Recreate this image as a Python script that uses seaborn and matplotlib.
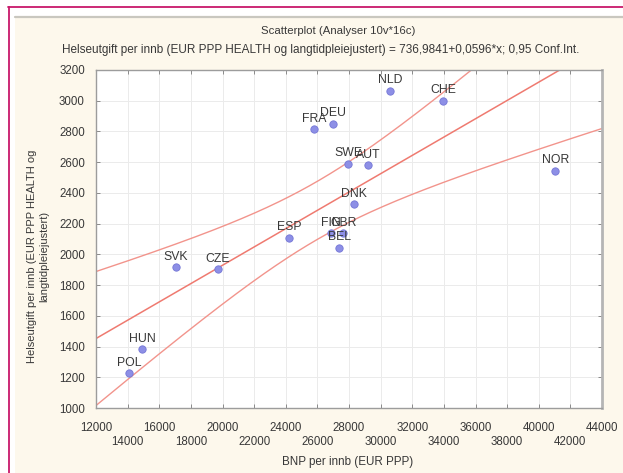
import numpy as np
import pandas as pd
import matplotlib
matplotlib.use("Agg")
import matplotlib.pyplot as plt
import seaborn as sns
from matplotlib.patches import Rectangle
from matplotlib.lines import Line2D

# Country codes with GDP per capita and health expenditure per capita (EUR PPP)
countries = ["NLD", "CHE", "FRA", "DEU", "SWE", "AUT", "DNK", "FIN", "GBR",
             "BEL", "ESP", "SVK", "CZE", "HUN", "POL", "NOR"]
gdp = [30600, 33960, 25800, 27000, 27950, 29215, 28330, 26870, 27630,
       27380, 24215, 17063, 19722, 14911, 14089, 41050]
health = [3064, 2999, 2816, 2849, 2589, 2582, 2328, 2139, 2139,
          2042, 2107, 1918, 1905, 1384, 1228, 2543]

# Fitted regression line as stated in the subtitle
intercept = 736.9841
slope = 0.0596

x_ticks = list(range(12000, 44001, 2000))
y_ticks = list(range(1000, 3201, 200))

df = pd.DataFrame({"land": countries, "bnp": gdp, "helse": health})

sns.set_style("white")
plt.rcParams["font.family"] = ["Liberation Sans", "DejaVu Sans"]

fig = plt.figure(figsize=(6.23, 4.73), dpi=100)
fig.patch.set_facecolor("white")

W, H = 623.0, 473.0
# cream panel with a grey top edge, framed by a magenta border
fig.add_artist(Rectangle((15 / W, 0), 1 - 15 / W, 1 - 17 / H,
                         transform=fig.transFigure, facecolor="#fdf8ec",
                         edgecolor="none", zorder=0))
fig.add_artist(Line2D([15 / W, 1], [1 - 17.5 / H, 1 - 17.5 / H],
                      transform=fig.transFigure, color="#c9c7bf", lw=1.6))
fig.add_artist(Line2D([8 / W, 1], [1 - 7.5 / H, 1 - 7.5 / H],
                      transform=fig.transFigure, color="#c8186a", lw=1.3))
fig.add_artist(Line2D([8.5 / W, 8.5 / W], [0, 1 - 7.5 / H],
                      transform=fig.transFigure, color="#c8186a", lw=1.3))

ax = fig.add_axes([96 / W, 1 - 408 / H, (602 - 96) / W, (408 - 70) / H])
ax.set_facecolor("white")

xmin, xmax = 12000, 44000
ymin, ymax = 1000, 3200

# regression line and 95% confidence band for the mean
xs = np.linspace(xmin, xmax, 300)
yfit = intercept + slope * xs
xa = np.asarray(gdp, float)
ya = np.asarray(health, float)
n = len(xa)
resid = ya - (intercept + slope * xa)
s = np.sqrt(np.sum(resid ** 2) / (n - 2))
sxx = np.sum((xa - xa.mean()) ** 2)
t_crit = 2.1448
half = t_crit * s * np.sqrt(1.0 / n + (xs - xa.mean()) ** 2 / sxx)

line_df = pd.DataFrame({"x": np.concatenate([xs, xs]),
                        "y": np.concatenate([yfit + half, yfit - half]),
                        "kurve": ["hi"] * len(xs) + ["lo"] * len(xs)})
sns.lineplot(data=line_df, x="x", y="y", units="kurve", estimator=None,
             color="#f2948c", lw=1.0, ax=ax, zorder=2, sort=False)
sns.lineplot(x=xs, y=yfit, color="#ef7a70", lw=1.1, ax=ax, zorder=2)

sns.scatterplot(data=df, x="bnp", y="helse", ax=ax, s=28, color="#8d8fe6",
                edgecolor="#7476d6", linewidth=0.6, zorder=4)

for lab, xv, yv in zip(countries, gdp, health):
    ax.annotate(lab, (xv, yv), xytext=(0, 3.2), textcoords="offset points",
                ha="center", va="bottom", fontsize=8.8, color="#383838",
                zorder=5)

ax.set_xlim(xmin, xmax)
ax.set_ylim(ymin, ymax)
ax.set_xticks(x_ticks)
ax.set_yticks(y_ticks)
ax.set_xticklabels([str(v) if i % 2 == 0 else "\n" + str(v)
                    for i, v in enumerate(x_ticks)])
ax.set_yticklabels([str(v) for v in y_ticks])
ax.tick_params(axis="both", which="major", direction="in", length=3,
               width=0.7, color="#8a8a8a", labelsize=8.3, labelcolor="#383838",
               top=True, right=True, bottom=True, left=True)
for t in ax.get_xticklabels():
    t.set_linespacing(1.25)
ax.tick_params(axis="x", pad=10)
ax.tick_params(axis="y", pad=8)
ax.grid(True, color="#ebebeb", lw=0.7)
ax.set_axisbelow(True)
for sp in ax.spines.values():
    sp.set_color("#9c9c9c")
    sp.set_linewidth(1.0)
ax.spines["right"].set_linewidth(2.0)
ax.spines["right"].set_color("#b5b5b5")

ax.set_xlabel("")
ax.set_ylabel("")

fig.text(338 / W, 1 - 31 / H, "Scatterplot (Analyser 10v*16c)", ha="center",
         va="center", fontsize=8.2, color="#383838")
fig.text(321 / W, 1 - 50 / H,
         "Helseutgift per innb (EUR PPP HEALTH og langtidpleiejustert) = "
         "736,9841+0,0596*x; 0,95 Conf.Int.",
         ha="center", va="center", fontsize=8.5, color="#383838")
fig.text(348 / W, 1 - 462 / H, "BNP per innb (EUR PPP)", ha="center",
         va="center", fontsize=8.4, color="#383838")
fig.text(38 / W, 1 - 256 / H,
         "Helseutgift per innb (EUR PPP HEALTH og\nlangtidpleiejustert)",
         ha="center", va="center", rotation=90, fontsize=8.0,
         color="#383838", linespacing=1.3)

fig.savefig("out.png", dpi=100, facecolor=fig.get_facecolor())
